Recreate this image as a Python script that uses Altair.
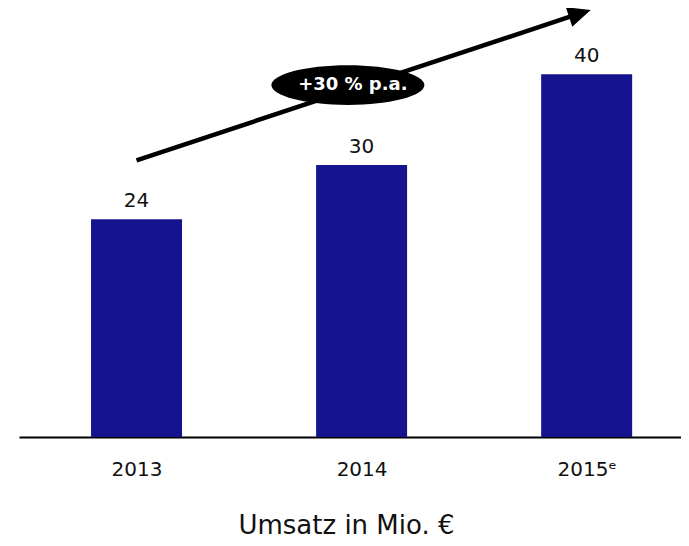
import altair as alt
import pandas as pd

# ---- data ----
years = ["2013", "2014", "2015ᵉ"]
year_index = [0, 1, 2]
revenue = [24, 30, 40]

# growth arrow (data units: x = year index, y = revenue scale)
arrow_x = [0.0, 1.97]
arrow_y = [30.5, 46.7]
badge_x = [0.939]
badge_y = [38.8]
badge_text = ["+30 % p.a."]

FONT = "DejaVu Sans"
BAR = "#16138F"

bars_df = pd.DataFrame({"idx": year_index, "year": years, "value": revenue})
arrow_df = pd.DataFrame({"x": arrow_x, "y": arrow_y})
head_df = pd.DataFrame({"x": [arrow_x[1]], "y": [arrow_y[1]]})
badge_df = pd.DataFrame({"x": badge_x, "y": badge_y, "t": badge_text})

xscale = alt.Scale(domain=[-0.5, 2.397], nice=False, zero=False)
yscale = alt.Scale(domain=[0, 46.75], nice=False)

label_expr = "datum.value == 0 ? '2013' : datum.value == 1 ? '2014' : '2015ᵉ'"

xenc = alt.X(
    "idx:Q",
    scale=xscale,
    axis=alt.Axis(
        values=year_index,
        labelExpr=label_expr,
        ticks=False,
        grid=False,
        domainColor="black",
        domainWidth=2,
        labelFont=FONT,
        labelFontSize=20,
        labelColor="#111111",
        labelPadding=22,
        title="Umsatz in Mio. €",
        titleFont=FONT,
        titleFontSize=26,
        titleFontWeight="normal",
        titleColor="#111111",
        titleX=327,
        titleY=88,
        titleBaseline="middle",
        titleAnchor="start",
        titleAlign="center",
    ),
)

bars = alt.Chart(bars_df).mark_bar(size=91, color=BAR).encode(
    x=xenc,
    y=alt.Y("value:Q", scale=yscale, axis=None),
)

values = alt.Chart(bars_df).mark_text(
    baseline="bottom", dy=-8, font=FONT, fontSize=20, color="#111111"
).encode(
    x=alt.X("idx:Q", scale=xscale),
    y=alt.Y("value:Q", scale=yscale),
    text=alt.Text("value:Q"),
)

arrow_line = alt.Chart(arrow_df).mark_line(
    color="black", strokeWidth=4.5, clip=False
).encode(
    x=alt.X("x:Q", scale=xscale),
    y=alt.Y("y:Q", scale=yscale),
)

arrow_head = alt.Chart(head_df).mark_point(
    shape="M-1,-0.9 L1,0 L-1,0.9 Z",
    size=520,
    filled=True,
    color="black",
    opacity=1,
    angle=341.9,
    clip=False,
).encode(
    x=alt.X("x:Q", scale=xscale),
    y=alt.Y("y:Q", scale=yscale),
)

badge = alt.Chart(badge_df).mark_point(
    shape="M-1,0 A1,0.26 0 1,1 1,0 A1,0.26 0 1,1 -1,0 Z",
    size=23409,
    filled=True,
    color="black",
    opacity=1,
).encode(
    x=alt.X("x:Q", scale=xscale),
    y=alt.Y("y:Q", scale=yscale),
)

badge_label = alt.Chart(badge_df).mark_text(
    font="DejaVu Sans", fontSize=18, fontWeight="bold", color="white", dx=5
).encode(
    x=alt.X("x:Q", scale=xscale),
    y=alt.Y("y:Q", scale=yscale),
    text="t:N",
)

chart = (
    alt.layer(bars, values, arrow_line, arrow_head, badge, badge_label)
    .properties(
        width=662,
        height=424,
        autosize=alt.AutoSizeParams(type="none"),
        padding={"left": 11, "top": 5, "right": 0, "bottom": 108},
    )
    .configure_view(strokeOpacity=0, strokeWidth=0)
)

chart.save("out.html", embed_options={"renderer": "svg", "actions": False})
